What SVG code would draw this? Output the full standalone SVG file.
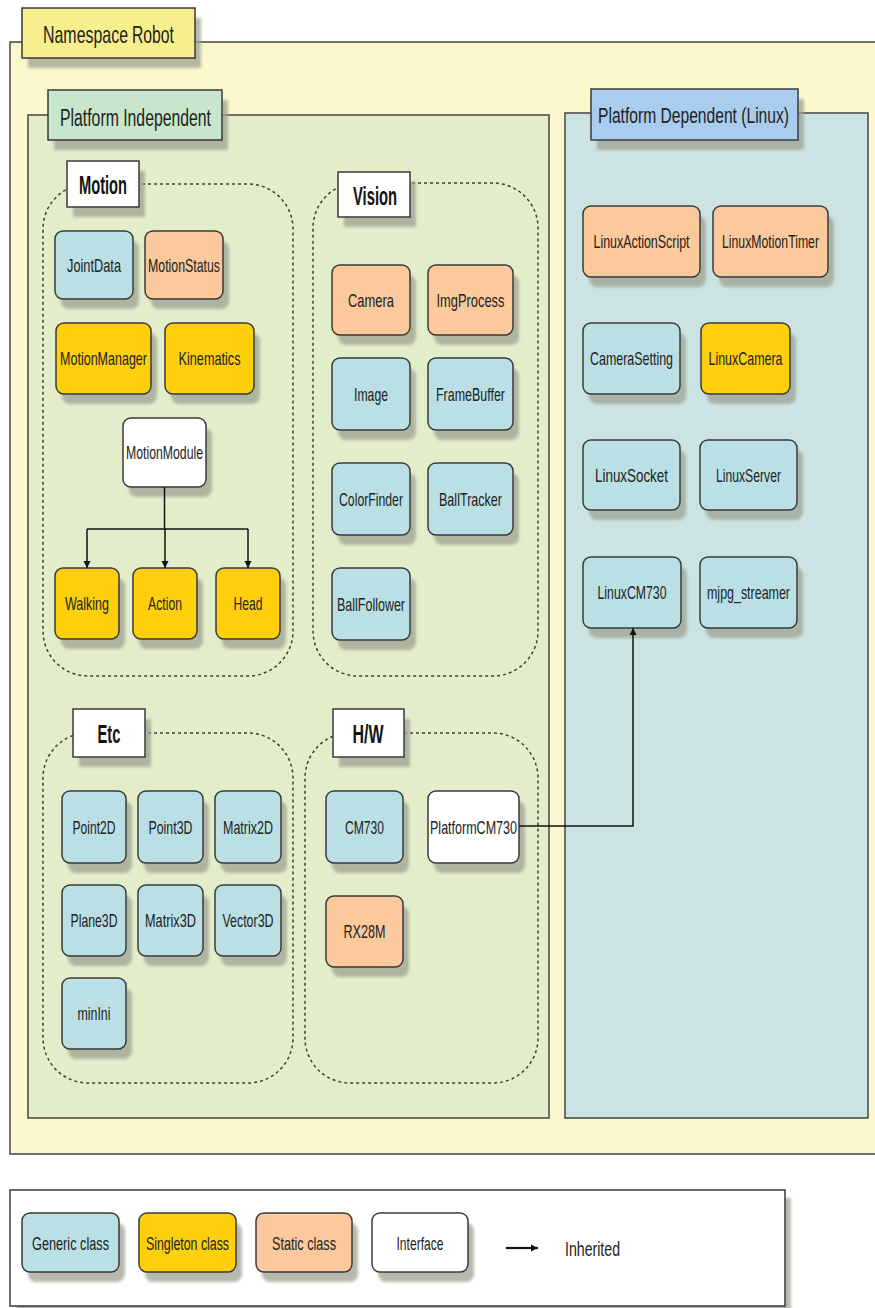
<svg xmlns="http://www.w3.org/2000/svg" width="875" height="1308" viewBox="0 0 875 1308">
  <defs>
    <filter id="soft" x="-20%" y="-20%" width="140%" height="140%">
      <feGaussianBlur stdDeviation="1.6"/>
    </filter>
    <marker id="arrow" viewBox="0 0 10 10" refX="10" refY="5" markerWidth="7" markerHeight="9" markerUnits="userSpaceOnUse" orient="auto">
      <path d="M0,0 L10,5 L0,10 Z" fill="#111"/>
    </marker>
  </defs>
  <style>
    text { font-family: "Liberation Sans", Arial, sans-serif; fill: #222; }
    .sh { fill: #9ea292; opacity: 0.75; filter: url(#soft); }
    .box { stroke: #3a3a3a; stroke-width: 1.5; }
    .generic .box { fill: #badfe4; }
    .singleton .box { fill: #fdcf0c; }
    .static .box { fill: #fbc99c; }
    .iface .box { fill: #ffffff; }
    .node text { font-size: 19px; text-anchor: middle; }
    .node text.tall { font-size: 12.5px; }
    .tag { fill: #ffffff; stroke: #3a3a3a; stroke-width: 1.5; }
    .tag-text { font-size: 26px; font-weight: bold; text-anchor: middle; fill: #111; }
    .pkg { fill: none; stroke: #2d4a2d; stroke-width: 1.5; stroke-dasharray: 3 3; }
    .wire { fill: none; stroke: #111; stroke-width: 1.5; }
  </style>

  <!-- namespace container -->
  <g id="namespace">
    <rect x="10" y="42" width="880" height="1112" fill="#fdf7cd" stroke="#444" stroke-width="1.5"/>
    <rect class="sh" x="28" y="18" width="173" height="50"/>
    <rect x="22" y="8" width="173" height="50" fill="#f7ef8e" stroke="#3a3a3a" stroke-width="1.5"/>
    <text transform="translate(43,43) scale(1,1.5)" font-size="16" textLength="85" lengthAdjust="spacingAndGlyphs" fill="#2b2b8f">Namespace</text>
    <text transform="translate(132,43) scale(1,1.5)" font-size="16" textLength="42" lengthAdjust="spacingAndGlyphs" fill="#111">Robot</text>
  </g>

  <!-- platform independent container -->
  <g id="platform-independent">
    <rect x="28" y="115" width="521" height="1003" fill="#e3edca" stroke="#444" stroke-width="1.5"/>
    <rect class="sh" x="54" y="100" width="174" height="50"/>
    <rect x="48" y="90" width="174" height="50" fill="#c8e6cb" stroke="#3a3a3a" stroke-width="1.5"/>
    <text transform="translate(60,126) scale(1,1.46)" font-size="15.8" textLength="151" lengthAdjust="spacingAndGlyphs" fill="#111">Platform Independent</text>
  </g>

  <!-- platform dependent container -->
  <g id="platform-dependent">
    <rect x="565" y="113" width="303" height="1005" fill="#cce3e3" stroke="#444" stroke-width="1.5"/>
    <rect class="sh" x="597" y="99" width="207" height="51"/>
    <rect x="591" y="89" width="207" height="51" fill="#a9cdee" stroke="#3a3a3a" stroke-width="1.5"/>
    <text transform="translate(598,123) scale(1,1.47)" font-size="15.6" textLength="191" lengthAdjust="spacingAndGlyphs" fill="#111">Platform Dependent (Linux)</text>
  </g>

  <!-- packages -->
  <g id="pkg-motion">
    <rect class="pkg" x="43" y="184" width="250" height="492" rx="45"/>
    <rect class="sh" x="73" y="171" width="72" height="46"/>
    <rect class="tag" x="67" y="161" width="72" height="46"/>
    <text class="tag-text" x="103" y="194" textLength="48" lengthAdjust="spacingAndGlyphs">Motion</text>
  </g>
  <g id="pkg-vision">
    <rect class="pkg" x="313" y="183" width="225" height="493" rx="45"/>
    <rect class="sh" x="344" y="182" width="72" height="45"/>
    <rect class="tag" x="338" y="172" width="72" height="45"/>
    <text class="tag-text" x="375" y="205" textLength="44" lengthAdjust="spacingAndGlyphs">Vision</text>
  </g>
  <g id="pkg-etc">
    <rect class="pkg" x="43" y="733" width="250" height="350" rx="45"/>
    <rect class="sh" x="79" y="719" width="72" height="48"/>
    <rect class="tag" x="73" y="709" width="72" height="48"/>
    <text class="tag-text" x="109" y="743" textLength="23" lengthAdjust="spacingAndGlyphs">Etc</text>
  </g>
  <g id="pkg-hw">
    <rect class="pkg" x="305" y="733" width="233" height="350" rx="45"/>
    <rect class="sh" x="339" y="719" width="71" height="48"/>
    <rect class="tag" x="333" y="709" width="71" height="48"/>
    <text class="tag-text" x="368" y="743" textLength="31" lengthAdjust="spacingAndGlyphs">H/W</text>
  </g>

  <!-- Motion classes -->
  <g id="JointData" class="node generic"><rect class="sh" x="61" y="241" width="78" height="68" rx="8"/><rect class="box" x="55" y="231" width="78" height="68" rx="8"/><text x="94" y="272" textLength="54" lengthAdjust="spacingAndGlyphs">JointData</text></g>
  <g id="MotionStatus" class="node static"><rect class="sh" x="151" y="241" width="78" height="68" rx="8"/><rect class="box" x="145" y="231" width="78" height="68" rx="8"/><text class="tall" transform="translate(184,272) scale(1,1.52)" textLength="72" lengthAdjust="spacingAndGlyphs">MotionStatus</text></g>
  <g id="MotionManager" class="node singleton"><rect class="sh" x="62" y="333" width="95" height="71" rx="8"/><rect class="box" x="56" y="323" width="95" height="71" rx="8"/><text class="tall" transform="translate(103.5,365) scale(1,1.52)" textLength="87" lengthAdjust="spacingAndGlyphs">MotionManager</text></g>
  <g id="Kinematics" class="node singleton"><rect class="sh" x="171" y="333" width="89" height="71" rx="8"/><rect class="box" x="165" y="323" width="89" height="71" rx="8"/><text class="tall" transform="translate(209.5,365) scale(1,1.52)" textLength="62" lengthAdjust="spacingAndGlyphs">Kinematics</text></g>
  <g id="MotionModule" class="node iface"><rect class="sh" x="129" y="428" width="83" height="69" rx="8"/><rect class="box" x="123" y="418" width="83" height="69" rx="8"/><text x="164.5" y="459" textLength="77" lengthAdjust="spacingAndGlyphs">MotionModule</text></g>
  <g id="Walking" class="node singleton"><rect class="sh" x="61" y="578" width="64" height="71" rx="8"/><rect class="box" x="55" y="568" width="64" height="71" rx="8"/><text x="87" y="610" textLength="44" lengthAdjust="spacingAndGlyphs">Walking</text></g>
  <g id="Action" class="node singleton"><rect class="sh" x="139" y="578" width="64" height="71" rx="8"/><rect class="box" x="133" y="568" width="64" height="71" rx="8"/><text x="165" y="610" textLength="34" lengthAdjust="spacingAndGlyphs">Action</text></g>
  <g id="Head" class="node singleton"><rect class="sh" x="222" y="578" width="64" height="71" rx="8"/><rect class="box" x="216" y="568" width="64" height="71" rx="8"/><text x="248" y="610" textLength="29" lengthAdjust="spacingAndGlyphs">Head</text></g>

  <!-- Vision classes -->
  <g id="Camera" class="node static"><rect class="sh" x="338" y="275" width="78" height="70" rx="8"/><rect class="box" x="332" y="265" width="78" height="70" rx="8"/><text x="371" y="307" textLength="46" lengthAdjust="spacingAndGlyphs">Camera</text></g>
  <g id="ImgProcess" class="node static"><rect class="sh" x="434" y="275" width="85" height="70" rx="8"/><rect class="box" x="428" y="265" width="85" height="70" rx="8"/><text x="470.5" y="307" textLength="68" lengthAdjust="spacingAndGlyphs">ImgProcess</text></g>
  <g id="Image" class="node generic"><rect class="sh" x="338" y="368" width="78" height="72" rx="8"/><rect class="box" x="332" y="358" width="78" height="72" rx="8"/><text x="371" y="401" textLength="34" lengthAdjust="spacingAndGlyphs">Image</text></g>
  <g id="FrameBuffer" class="node generic"><rect class="sh" x="434" y="368" width="85" height="72" rx="8"/><rect class="box" x="428" y="358" width="85" height="72" rx="8"/><text x="470.5" y="401" textLength="69" lengthAdjust="spacingAndGlyphs">FrameBuffer</text></g>
  <g id="ColorFinder" class="node generic"><rect class="sh" x="338" y="473" width="78" height="72" rx="8"/><rect class="box" x="332" y="463" width="78" height="72" rx="8"/><text x="371" y="506" textLength="64" lengthAdjust="spacingAndGlyphs">ColorFinder</text></g>
  <g id="BallTracker" class="node generic"><rect class="sh" x="434" y="473" width="85" height="72" rx="8"/><rect class="box" x="428" y="463" width="85" height="72" rx="8"/><text x="470.5" y="506" textLength="63" lengthAdjust="spacingAndGlyphs">BallTracker</text></g>
  <g id="BallFollower" class="node generic"><rect class="sh" x="338" y="578" width="78" height="72" rx="8"/><rect class="box" x="332" y="568" width="78" height="72" rx="8"/><text x="371" y="611" textLength="68" lengthAdjust="spacingAndGlyphs">BallFollower</text></g>

  <!-- Linux classes -->
  <g id="LinuxActionScript" class="node static"><rect class="sh" x="589" y="216" width="117" height="71" rx="8"/><rect class="box" x="583" y="206" width="117" height="71" rx="8"/><text class="tall" transform="translate(641.5,248) scale(1,1.55)" style="font-size:12.3px" textLength="96" lengthAdjust="spacingAndGlyphs">LinuxActionScript</text></g>
  <g id="LinuxMotionTimer" class="node static"><rect class="sh" x="719" y="216" width="115" height="71" rx="8"/><rect class="box" x="713" y="206" width="115" height="71" rx="8"/><text class="tall" transform="translate(770.5,248) scale(1,1.55)" style="font-size:12.3px" textLength="97" lengthAdjust="spacingAndGlyphs">LinuxMotionTimer</text></g>
  <g id="CameraSetting" class="node generic"><rect class="sh" x="589" y="333" width="97" height="71" rx="8"/><rect class="box" x="583" y="323" width="97" height="71" rx="8"/><text x="631.5" y="365" textLength="83" lengthAdjust="spacingAndGlyphs">CameraSetting</text></g>
  <g id="LinuxCamera" class="node singleton"><rect class="sh" x="707" y="333" width="89" height="71" rx="8"/><rect class="box" x="701" y="323" width="89" height="71" rx="8"/><text x="745.5" y="365" textLength="74" lengthAdjust="spacingAndGlyphs">LinuxCamera</text></g>
  <g id="LinuxSocket" class="node generic"><rect class="sh" x="589" y="450" width="97" height="70" rx="8"/><rect class="box" x="583" y="440" width="97" height="70" rx="8"/><text x="631.5" y="482" textLength="73" lengthAdjust="spacingAndGlyphs">LinuxSocket</text></g>
  <g id="LinuxServer" class="node generic"><rect class="sh" x="706" y="450" width="97" height="70" rx="8"/><rect class="box" x="700" y="440" width="97" height="70" rx="8"/><text x="748.5" y="482" textLength="65" lengthAdjust="spacingAndGlyphs">LinuxServer</text></g>
  <g id="LinuxCM730" class="node generic"><rect class="sh" x="589" y="567" width="98" height="71" rx="8"/><rect class="box" x="583" y="557" width="98" height="71" rx="8"/><text x="632" y="599" textLength="69" lengthAdjust="spacingAndGlyphs">LinuxCM730</text></g>
  <g id="mjpg_streamer" class="node generic"><rect class="sh" x="706" y="567" width="97" height="71" rx="8"/><rect class="box" x="700" y="557" width="97" height="71" rx="8"/><text x="748.5" y="599" textLength="83" lengthAdjust="spacingAndGlyphs">mjpg_streamer</text></g>

  <!-- Etc classes -->
  <g id="Point2D" class="node generic"><rect class="sh" x="68" y="801" width="64" height="72" rx="8"/><rect class="box" x="62" y="791" width="64" height="72" rx="8"/><text x="94" y="834" textLength="43" lengthAdjust="spacingAndGlyphs">Point2D</text></g>
  <g id="Point3D" class="node generic"><rect class="sh" x="144" y="801" width="65" height="72" rx="8"/><rect class="box" x="138" y="791" width="65" height="72" rx="8"/><text x="170.5" y="834" textLength="44" lengthAdjust="spacingAndGlyphs">Point3D</text></g>
  <g id="Matrix2D" class="node generic"><rect class="sh" x="221" y="801" width="66" height="72" rx="8"/><rect class="box" x="215" y="791" width="66" height="72" rx="8"/><text x="248" y="834" textLength="50" lengthAdjust="spacingAndGlyphs">Matrix2D</text></g>
  <g id="Plane3D" class="node generic"><rect class="sh" x="68" y="895" width="64" height="71" rx="8"/><rect class="box" x="62" y="885" width="64" height="71" rx="8"/><text x="94" y="927" textLength="47" lengthAdjust="spacingAndGlyphs">Plane3D</text></g>
  <g id="Matrix3D" class="node generic"><rect class="sh" x="144" y="895" width="65" height="71" rx="8"/><rect class="box" x="138" y="885" width="65" height="71" rx="8"/><text x="170.5" y="927" textLength="51" lengthAdjust="spacingAndGlyphs">Matrix3D</text></g>
  <g id="Vector3D" class="node generic"><rect class="sh" x="221" y="895" width="66" height="71" rx="8"/><rect class="box" x="215" y="885" width="66" height="71" rx="8"/><text x="248" y="927" textLength="51" lengthAdjust="spacingAndGlyphs">Vector3D</text></g>
  <g id="minIni" class="node generic"><rect class="sh" x="68" y="988" width="64" height="71" rx="8"/><rect class="box" x="62" y="978" width="64" height="71" rx="8"/><text x="94" y="1020" textLength="33" lengthAdjust="spacingAndGlyphs">minIni</text></g>

  <!-- H/W classes -->
  <g id="CM730" class="node generic"><rect class="sh" x="332" y="801" width="77" height="72" rx="8"/><rect class="box" x="326" y="791" width="77" height="72" rx="8"/><text x="364.5" y="834" textLength="39" lengthAdjust="spacingAndGlyphs">CM730</text></g>
  <g id="PlatformCM730" class="node iface"><rect class="sh" x="434" y="801" width="91" height="72" rx="8"/><rect class="box" x="428" y="791" width="91" height="72" rx="8"/><text x="473.5" y="834" textLength="87" lengthAdjust="spacingAndGlyphs">PlatformCM730</text></g>
  <g id="RX28M" class="node static"><rect class="sh" x="332" y="906" width="77" height="71" rx="8"/><rect class="box" x="326" y="896" width="77" height="71" rx="8"/><text x="364.5" y="938" textLength="42" lengthAdjust="spacingAndGlyphs">RX28M</text></g>

  <!-- inheritance connectors -->
  <g id="connectors">
    <path class="wire" d="M164.5,487 V529"/>
    <path class="wire" d="M87,529 H248"/>
    <path class="wire" d="M87,529 V568" marker-end="url(#arrow)"/>
    <path class="wire" d="M165,529 V568" marker-end="url(#arrow)"/>
    <path class="wire" d="M248,529 V568" marker-end="url(#arrow)"/>
    <path class="wire" d="M519,826 H633 V628" marker-end="url(#arrow)"/>
  </g>

  <!-- legend -->
  <g id="legend">
    <rect class="sh" x="16" y="1198" width="775" height="116"/>
    <rect x="10" y="1190" width="775" height="116" fill="#ffffff" stroke="#3a3a3a" stroke-width="1.5"/>
    <g id="legend-generic" class="node generic"><rect class="sh" x="28" y="1223" width="97" height="59" rx="8"/><rect class="box" x="22" y="1213" width="97" height="59" rx="8"/><text x="70.5" y="1250" font-size="20" textLength="77" lengthAdjust="spacingAndGlyphs">Generic class</text></g>
    <g id="legend-singleton" class="node singleton"><rect class="sh" x="145" y="1223" width="97" height="59" rx="8"/><rect class="box" x="139" y="1213" width="97" height="59" rx="8"/><text x="187.5" y="1250" font-size="20" textLength="83" lengthAdjust="spacingAndGlyphs">Singleton class</text></g>
    <g id="legend-static" class="node static"><rect class="sh" x="262" y="1223" width="96" height="59" rx="8"/><rect class="box" x="256" y="1213" width="96" height="59" rx="8"/><text x="304" y="1250" font-size="20" textLength="64" lengthAdjust="spacingAndGlyphs">Static class</text></g>
    <g id="legend-interface" class="node iface"><rect class="sh" x="378" y="1223" width="96" height="59" rx="8"/><rect class="box" x="372" y="1213" width="96" height="59" rx="8"/><text x="420" y="1250" font-size="20" textLength="47" lengthAdjust="spacingAndGlyphs">Interface</text></g>
    <path d="M506,1248 H538" fill="none" stroke="#111" stroke-width="2.2" marker-end="url(#arrow)"/>
    <text x="565" y="1256" font-size="20" textLength="55" lengthAdjust="spacingAndGlyphs">Inherited</text>
  </g>
</svg>
